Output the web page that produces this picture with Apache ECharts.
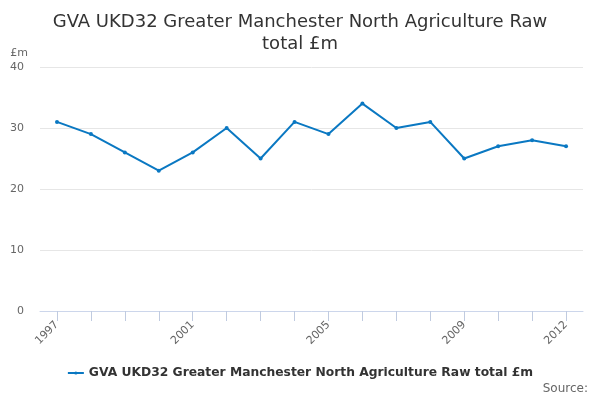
<!DOCTYPE html>
<html>
<head>
    <meta charset="UTF-8">
    <title>Echarts</title>
    <script type="text/javascript" src="https://cdn.jsdelivr.net/npm/echarts@6/dist/echarts.min.js"></script>
    <style>
        body { margin: 0; }
    </style>
</head>
<body>
    <div id="main" style="width: 600px;height:400px;"></div>
    <script type="text/javascript">
var years = ['1997', '1998', '1999', '2000', '2001', '2002', '2003', '2004',
             '2005', '2006', '2007', '2008', '2009', '2010', '2011', '2012'];
var gva = [31, 29, 26, 23, 26, 30, 25, 31, 29, 34, 30, 31, 25, 27, 28, 27];
var seriesName = 'GVA UKD32 Greater Manchester North Agriculture Raw total £m';

var myChart = echarts.init(document.getElementById('main'));

var option = {
  backgroundColor: '#fff',
  textStyle: { fontFamily: 'DejaVu Sans' },
  title: {
    text: 'GVA UKD32 Greater Manchester North Agriculture Raw\ntotal £m',
    left: 'center',
    top: 6,
    textStyle: {
      fontSize: 18,
      fontWeight: 'normal',
      color: '#333',
      lineHeight: 22,
    },
  },
  legend: {
    data: [seriesName],
    bottom: 16,
    left: 'center',
    itemWidth: 16,
    itemHeight: 4,
    textStyle: { fontSize: 12.3, fontWeight: 'bold', color: '#333' },
  },
  graphic: [
    {
      type: 'text',
      right: 12,
      bottom: 5,
      style: { text: 'Source:', fontSize: 12, fill: '#666', fontFamily: 'DejaVu Sans' },
    },
  ],
  grid: {
    left: 40,
    right: 17,
    top: 67,
    bottom: 89,
  },
  xAxis: {
    type: 'category',
    data: years,
    boundaryGap: true,
    axisLine: { lineStyle: { color: '#ccd6eb' } },
    axisTick: {
      show: true,
      alignWithLabel: true,
      interval: 0,
      length: 10,
      lineStyle: { color: '#c0cbe0', width: 1 },
    },
    axisLabel: {
      rotate: 45,
      color: '#666',
      fontSize: 11,
      margin: 12,
      interval: function (index) {
        return index % 4 === 0 || index === years.length - 1;
      },
    },
  },
  yAxis: {
    type: 'value',
    name: '£m',
    nameLocation: 'end',
    nameGap: 8,
    nameTextStyle: { color: '#666', fontSize: 11, align: 'right', padding: [0, 12, 0, 0] },
    min: 0,
    max: 40,
    interval: 10,
    axisLine: { show: false },
    axisTick: { show: false },
    axisLabel: { color: '#666', fontSize: 11, margin: 16 },
    splitLine: { lineStyle: { color: '#e6e6e6' } },
  },
  series: [
    {
      name: seriesName,
      type: 'line',
      data: gva,
      symbol: 'circle',
      symbolSize: 4,
      itemStyle: { color: '#0a78c2' },
      lineStyle: { width: 2, color: '#0a78c2' },
    },
  ],
};

myChart.setOption(option);
    </script>
</body>
</html>
